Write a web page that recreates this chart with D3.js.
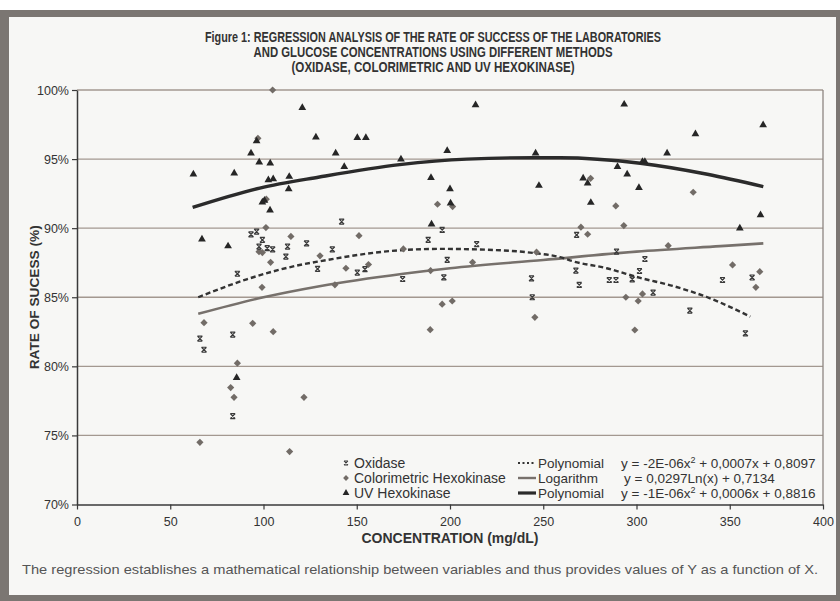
<!DOCTYPE html>
<html>
<head>
<meta charset="utf-8">
<script src="https://cdn.jsdelivr.net/npm/d3@7"></script>
<style>
  body { margin: 0; background: #fff; }
  svg text { font-family: "Liberation Sans", Arial, sans-serif; }
</style>
</head>
<body>
<div id="viz"></div>
<script>
var width = 840;
var height = 601;
var margin = {top: 90, right: 17, bottom: 96.5, left: 77};

// tick values
var xTicks = [0, 50, 100, 150, 200, 250, 300, 350, 400];
var yTicks = [70, 75, 80, 85, 90, 95, 100];

// scatter data [concentration, % success]
var oxidase = [
  [65.9, 82.0], [68.1, 81.2], [83.5, 82.3], [83.5, 76.4], [86, 86.7], [93.3, 89.55],
  [96.3, 89.75], [99.4, 89.15], [97.6, 88.66], [102, 88.55], [104.9, 88.47], [112.9, 88.66],
  [112, 87.94], [123.1, 88.9], [129, 87.05], [136.9, 88.47], [141.9, 90.47], [150.3, 86.78],
  [154.4, 87.03], [174.6, 86.32], [188.3, 89.15], [195.8, 89.87], [196.7, 86.44], [198.5, 87.7],
  [214.3, 88.84], [243.7, 86.37], [244.1, 85.0], [267.5, 86.93], [267.9, 89.51], [269.3, 85.89],
  [285.4, 86.25], [289, 86.25], [289.3, 88.3], [297.7, 86.3], [301.6, 86.9], [304.5, 87.77],
  [308.9, 85.33], [328.6, 84.03], [346.1, 86.25], [358.4, 82.39], [362, 86.43]
];
var colorimetric = [
  [65.9, 74.5], [68.1, 83.16], [82.4, 78.46], [84.2, 77.76], [86, 80.23], [94.2, 83.11],
  [97, 96.5], [97.6, 88.3], [99.4, 88.23], [99.2, 85.72], [101.3, 90.04], [101.5, 92.1],
  [103.8, 87.53], [104.9, 100.0], [105.2, 82.51], [114, 73.83], [114.7, 89.4], [121.7, 77.76],
  [130.3, 88.0], [138.3, 85.9], [144.2, 87.1], [151.2, 89.46], [156.3, 87.37], [175, 88.5],
  [189.4, 82.65], [189.6, 86.93], [193.3, 91.73], [195.8, 84.5], [201.2, 84.73], [201.4, 91.56],
  [212.1, 87.53], [245.5, 83.55], [246.4, 88.26], [270.2, 90.07], [273.8, 89.56], [275.4, 93.61],
  [288.9, 91.61], [293.2, 90.19], [294.3, 85.0], [299.1, 82.63], [300.9, 84.73], [303.2, 85.24],
  [317, 88.73], [330.4, 92.6], [351.5, 87.34], [364, 85.72], [366.1, 86.85]
];
var uvHexokinase = [
  [62.4, 93.9], [67, 89.2], [81, 88.7], [84.3, 93.97], [85.6, 79.18], [93.3, 95.42],
  [96.3, 96.3], [97.7, 94.77], [99.4, 91.87], [100.5, 92.0], [102.6, 93.49], [103.5, 91.3],
  [103.6, 94.7], [105.2, 93.56], [113.5, 92.84], [113.8, 93.73], [120.8, 98.72], [128.1, 96.58],
  [138.7, 95.42], [143.3, 94.45], [150.3, 96.55], [154.9, 96.55], [173.7, 94.99], [189.8, 93.65],
  [190.1, 90.28], [198.5, 95.6], [200, 92.84], [200.3, 91.8], [213.7, 98.91], [245.9, 95.42],
  [247.7, 93.08], [271.4, 93.61], [273.8, 93.25], [275.5, 91.85], [289.8, 94.45], [293.4, 98.96],
  [295, 93.9], [301.3, 92.93], [303.2, 94.81], [304.5, 94.81], [316.4, 95.42], [331.6, 96.82],
  [355.4, 90.0], [366.5, 90.95], [367.9, 97.47]
];

// trend lines, points
var oxidasePoly = [
  [65, 85.0], [91, 86.3], [120, 87.35], [130, 87.6], [173, 88.4], [195, 88.5], [227, 88.4],
  [245, 88.2], [259, 87.9], [266, 87.6], [284, 87.1], [302, 86.4], [320, 85.8], [338, 85.0], [361, 83.6]
];
var colorimetricLog = [
  [65, 83.8], [100, 85.0], [130, 85.8], [175, 86.7], [200, 87.1], [250, 87.7], [300, 88.3], [345, 88.7], [368, 88.9]
];
var uvPoly = [
  [62, 91.5], [98, 92.9], [130, 93.7], [173, 94.6], [209, 95.0], [245, 95.1], [259, 95.1],
  [302, 94.7], [338, 93.9], [368, 93.0]
];

var titleLines = [
  'Figure 1: REGRESSION ANALYSIS OF THE RATE OF SUCCESS OF THE LABORATORIES',
  'AND GLUCOSE CONCENTRATIONS USING DIFFERENT METHODS',
  '(OXIDASE, COLORIMETRIC AND UV HEXOKINASE)'
];
var titleWidths = [456, 359, 283];
var seriesNames = ['Oxidase', 'Colorimetric Hexokinase', 'UV Hexokinase'];
var trendNames = ['Polynomial', 'Logarithm', 'Polynomial'];
var equations = [
  ['y = -2E-06x', '2', ' + 0,0007x + 0,8097'],
  ['y = 0,0297Ln(x) + 0,7134'],
  ['y = -1E-06x', '2', ' + 0,0006x + 0,8816']
];

var svg = d3.select('#viz').append('svg')
  .attr('width', width)
  .attr('height', height);

// frame
svg.append('rect').attr('x', 0).attr('y', 10).attr('width', width).attr('height', height - 10).attr('fill', '#7b7672');
svg.append('rect').attr('x', 9).attr('y', 17).attr('width', 827).attr('height', 578).attr('fill', '#f7f7f5');

var x = d3.scaleLinear().domain([0, 400]).range([margin.left, width - margin.right]);
var y = d3.scaleLinear().domain([70, 100]).range([height - margin.bottom, margin.top]);

// title
svg.append('g').selectAll('text').data(titleLines)
  .enter().append('text')
  .attr('x', function(d, i) { return 433 - titleWidths[i] / 2; })
  .attr('y', function(d, i) { return 42 + i * 15; })
  .attr('font-size', 14.5)
  .attr('font-weight', 'bold')
  .attr('fill', '#333')
  .attr('textLength', function(d, i) { return titleWidths[i]; })
  .attr('lengthAdjust', 'spacingAndGlyphs')
  .text(function(d) { return d; });

// grid
svg.append('g').selectAll('line').data(yTicks.slice(1))
  .enter().append('line')
  .attr('x1', x(0)).attr('x2', x(400))
  .attr('y1', function(d) { return y(d); })
  .attr('y2', function(d) { return y(d); })
  .attr('stroke', '#a39890')
  .attr('stroke-width', 1.3);
svg.append('line')
  .attr('x1', x(400)).attr('x2', x(400))
  .attr('y1', y(100)).attr('y2', y(70))
  .attr('stroke', '#8e8680').attr('stroke-width', 1.3);

// axes
var yAxis = svg.append('g')
  .attr('transform', 'translate(' + x(0) + ',0)')
  .call(d3.axisLeft(y).tickValues(yTicks).tickSize(5).tickSizeOuter(0).tickFormat(function(d) { return d + '%'; }));
var xAxis = svg.append('g')
  .attr('transform', 'translate(0,' + y(70) + ')')
  .call(d3.axisBottom(x).tickValues(xTicks).tickSize(5).tickSizeOuter(0).tickPadding(8));
[xAxis, yAxis].forEach(function(ax) {
  ax.select('.domain').attr('stroke', '#3a3a3a').attr('stroke-width', 1.5);
  ax.selectAll('.tick line').attr('stroke', '#3a3a3a').attr('stroke-width', 1.2);
  ax.selectAll('.tick text').attr('font-size', 12.5).attr('fill', '#333')
    .style('font-family', '"Liberation Sans", Arial, sans-serif');
});

svg.append('text')
  .attr('transform', 'translate(39,' + y(85) + ') rotate(-90)')
  .attr('x', -72)
  .attr('font-size', 13)
  .attr('font-weight', 'bold')
  .attr('fill', '#333')
  .attr('textLength', 144)
  .attr('lengthAdjust', 'spacingAndGlyphs')
  .text('RATE OF SUCESS (%)');
svg.append('text')
  .attr('x', 450).attr('y', 543)
  .attr('text-anchor', 'middle')
  .attr('font-size', 14)
  .attr('font-weight', 'bold')
  .attr('fill', '#333')
  .text('CONCENTRATION (mg/dL)');
svg.append('text')
  .attr('x', 22).attr('y', 574)
  .attr('font-size', 13.5)
  .attr('fill', '#555')
  .attr('textLength', 796)
  .attr('lengthAdjust', 'spacingAndGlyphs')
  .text('The regression establishes a mathematical relationship between variables and thus provides values of Y as a function of X.');

// markers
var xMark = 'M-2.5,-2.5L2.5,2.5M2.5,-2.5L-2.5,2.5M-2.5,-2.5H2.5M-2.5,2.5H2.5';
var diamond = 'M0,-3.6L3.6,0L0,3.6L-3.6,0Z';
var triangle = d3.symbol().type(d3.symbolTriangle).size(26)();

// trend lines
var line = d3.line()
  .x(function(d) { return x(d[0]); })
  .y(function(d) { return y(d[1]); })
  .curve(d3.curveMonotoneX);

svg.append('path').datum(colorimetricLog)
  .attr('d', line).attr('fill', 'none')
  .attr('stroke', '#77716c').attr('stroke-width', 2.6);
svg.append('path').datum(oxidasePoly)
  .attr('d', line).attr('fill', 'none')
  .attr('stroke', '#333').attr('stroke-width', 2.4).attr('stroke-dasharray', '5,3');
svg.append('path').datum(uvPoly)
  .attr('d', line).attr('fill', 'none')
  .attr('stroke', '#2b2b2b').attr('stroke-width', 3.4);

// points
svg.append('g').selectAll('path').data(colorimetric)
  .enter().append('path')
  .attr('d', diamond)
  .attr('transform', function(d) { return 'translate(' + x(d[0]) + ',' + y(d[1]) + ')'; })
  .attr('fill', '#726c67');
svg.append('g').selectAll('path').data(oxidase)
  .enter().append('path')
  .attr('d', xMark)
  .attr('transform', function(d) { return 'translate(' + x(d[0]) + ',' + y(d[1]) + ')'; })
  .attr('fill', 'none')
  .attr('stroke', '#3a3a3a').attr('stroke-width', 1.2);
svg.append('g').selectAll('path').data(uvHexokinase)
  .enter().append('path')
  .attr('d', triangle)
  .attr('transform', function(d) { return 'translate(' + x(d[0]) + ',' + y(d[1]) + ')'; })
  .attr('fill', '#262626');

// legend
var legend = svg.append('g');
var rows = [463, 478, 493];
legend.append('path').attr('d', xMark).attr('transform', 'translate(346,' + rows[0] + ') scale(0.8)')
  .attr('fill', 'none').attr('stroke', '#3a3a3a').attr('stroke-width', 1.3);
legend.append('path').attr('d', diamond).attr('transform', 'translate(346,' + rows[1] + ') scale(0.8)')
  .attr('fill', '#726c67');
legend.append('path').attr('d', d3.symbol().type(d3.symbolTriangle).size(20)()).attr('transform', 'translate(346,' + rows[2] + ')')
  .attr('fill', '#262626');
legend.selectAll('.sname').data(seriesNames)
  .enter().append('text')
  .attr('class', 'sname')
  .attr('x', 354)
  .attr('y', function(d, i) { return rows[i] + 4.5; })
  .attr('font-size', 14)
  .attr('fill', '#333')
  .text(function(d) { return d; });

legend.append('line').attr('x1', 518).attr('x2', 536).attr('y1', rows[0]).attr('y2', rows[0])
  .attr('stroke', '#333').attr('stroke-width', 2).attr('stroke-dasharray', '2,2.5');
legend.append('line').attr('x1', 518).attr('x2', 536).attr('y1', rows[1]).attr('y2', rows[1])
  .attr('stroke', '#77716c').attr('stroke-width', 2.4);
legend.append('line').attr('x1', 518).attr('x2', 536).attr('y1', rows[2]).attr('y2', rows[2])
  .attr('stroke', '#2b2b2b').attr('stroke-width', 3.2);
legend.selectAll('.tname').data(trendNames)
  .enter().append('text')
  .attr('class', 'tname')
  .attr('x', 538)
  .attr('y', function(d, i) { return rows[i] + 4.5; })
  .attr('font-size', 13.5)
  .attr('fill', '#333')
  .text(function(d) { return d; });

var eqX = [621, 624, 621];
equations.forEach(function(parts, i) {
  var t = legend.append('text')
    .attr('x', eqX[i])
    .attr('y', rows[i] + 4.5)
    .attr('font-size', 13.5)
    .attr('fill', '#333');
  parts.forEach(function(p, j) {
    var ts = t.append('tspan').text(p);
    if (j === 1) ts.attr('font-size', 9).attr('dy', -5);
    if (j === 2) ts.attr('dy', 5);
  });
});
</script>
</body>
</html>
